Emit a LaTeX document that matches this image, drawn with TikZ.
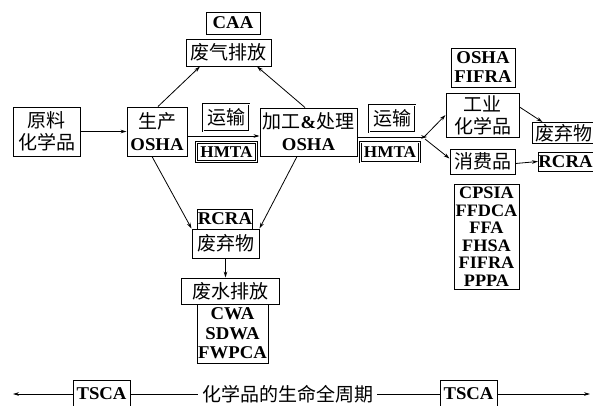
\documentclass[tikz,border=0pt]{standalone}
\usepackage{fontspec}
\setmainfont{Liberation Serif}[FakeStretch=1.04]
\newfontfamily\cjk{Noto Sans CJK SC}
\usetikzlibrary{arrows.meta}
\newcommand{\zh}[1]{{\cjk\mdseries\fontsize{19}{22}\selectfont #1}}
\tikzset{
  box/.style={draw, line width=1pt, inner sep=0pt, align=center,
    font=\bfseries\fontsize{18}{22}\selectfont},
  dbox/.style={box, draw=white, line width=0.8pt, preaction={draw=black, line width=2.4pt}},
  hbox/.style={dbox, font=\bfseries\fontsize{16.5}{20}\selectfont},
  lst/.style={box, font=\bfseries\fontsize{17.5}{17.5}\selectfont},
  arr/.style={line width=0.8pt, -{Stealth[length=6pt,width=3.6pt]}},
  ln/.style={line width=0.8pt}
}
\begin{document}
\begin{tikzpicture}[x=1pt,y=-1pt]
\clip (0,0) rectangle (593,405);
\fill[white] (0,0) rectangle (593,405);
% nodes
\node[box, minimum width=67pt, minimum height=49pt] (raw) at (46.5,131.5) {\zh{原料}\\\zh{化学品}};
\node[box, minimum width=60pt, minimum height=49pt] (prod) at (157,131.5) {\zh{生产}\\OSHA};
\node[box, minimum width=54pt, minimum height=22pt] (caa) at (233,23) {CAA};
\node[box, minimum width=85pt, minimum height=27pt] (gas) at (228.5,52.5) {\zh{废气排放}};
\node[dbox, minimum width=46pt, minimum height=27pt] (ys1) at (226,117.5) {\zh{运输}};
\node[hbox, minimum width=60pt, minimum height=19pt] (hm1) at (226.5,152) {HMTA};
\node[box, minimum width=97pt, minimum height=48pt] (proc) at (308.5,132) {\zh{加工}\&\zh{处理}\\OSHA};
\node[dbox, minimum width=46pt, minimum height=27pt] (ys2) at (392,118.5) {\zh{运输}};
\node[hbox, minimum width=59pt, minimum height=20pt] (hm2) at (390,152) {HMTA};
\node[lst, minimum width=64pt, minimum height=39pt, font=\bfseries\fontsize{18}{19}\selectfont] (of) at (483,67.5) {OSHA\\FIFRA};
\node[box, minimum width=73pt, minimum height=44pt] (ind) at (482.5,115) {\zh{工业}\\\zh{化学品}};
\node[box, minimum width=65pt, minimum height=25pt] (con) at (482.5,161.5) {\zh{消费品}};
\node[box, minimum width=64pt, minimum height=21pt] (waste2) at (564,133) {\zh{废弃物}};
\node[box, minimum width=56pt, minimum height=19pt] (rcra2) at (568,161.5) {RCRA\hspace{5pt}};
\node[lst, minimum width=65pt, minimum height=105pt] (law) at (486.5,236.5) {CPSIA\\FFDCA\\FFA\\FHSA\\FIFRA\\PPPA};
\node[box, minimum width=54pt, minimum height=20pt] (rcra1) at (225,219) {RCRA};
\node[box, minimum width=67pt, minimum height=29pt] (waste1) at (225.5,243.5) {\zh{废弃物}};
\node[box, minimum width=98pt, minimum height=26pt] (ww) at (230,291) {\zh{废水排放}};
\node[lst, minimum width=71pt, minimum height=59pt, font=\bfseries\fontsize{18}{19.5}\selectfont] (cwa) at (232.5,333.5) {CWA\\SDWA\\FWPCA};
\node[box, minimum width=57pt, minimum height=28pt] (tsca1) at (101.5,394) {TSCA};
\node[box, minimum width=57pt, minimum height=28pt] (tsca2) at (468.5,394) {TSCA};
\node[inner xsep=4pt, inner ysep=0pt] (life) at (287.5,394) {\zh{化学品的生命全周期}};
\coordinate (L) at (13,394);
\coordinate (R) at (590,394);
\coordinate (sp) at (427,137);
% connectors
\draw[arr] (raw) -- (prod);
\draw[arr] (prod.east |- 0,136) -- (proc.west |- 0,136);
\draw[arr] ([xshift=1pt]prod.north) -- ([xshift=-28.5pt]gas.south);
\draw[arr] ([xshift=-3.5pt]proc.north) -- ([xshift=28.5pt]gas.south);
\draw[arr] ([xshift=-5pt]prod.south) -- (waste1.north west);
\draw[arr] ([xshift=-11.5pt]proc.south) -- (waste1.north east);
\draw[arr] (waste1.south) -- (waste1.south |- ww.north);
\draw[arr] (proc.east |- sp) -- (sp);
\draw[arr] ([xshift=-3pt]sp) -- (ind.west);
\draw[arr] ([xshift=-2pt,yshift=-2pt]sp) -- ([yshift=3pt]con.west);
\draw[arr] ([yshift=8pt]ind.east) -- ([xshift=11pt]waste2.north west);
\draw[arr] ([yshift=-2pt]con.east) -- (rcra2.west);
\draw[arr] (tsca1.west) -- (L);
\draw[ln] (tsca1.east) -- (life.west);
\draw[ln] (life.east) -- (tsca2.west);
\draw[arr] (tsca2.east) -- (R);
\end{tikzpicture}
\end{document}
